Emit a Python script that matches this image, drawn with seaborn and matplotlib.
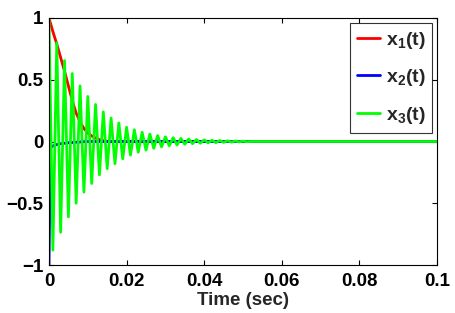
import numpy as np
import pandas as pd
import matplotlib
matplotlib.use("Agg")
import matplotlib.pyplot as plt
import seaborn as sns

# ---- data ----
x1_t = [0.000, 0.001, 0.002, 0.003, 0.004, 0.005, 0.006, 0.007, 0.008, 0.009,
        0.010, 0.011, 0.012, 0.013, 0.014, 0.015, 0.100]
x1_v = [1.00, 0.89, 0.79, 0.68, 0.57, 0.45, 0.33, 0.23, 0.16, 0.105,
        0.07, 0.045, 0.028, 0.015, 0.006, 0.0, 0.0]

x2_t = [0.0000, 0.0003, 0.0007, 0.0015, 0.0025, 0.0050, 0.0080, 0.0100, 0.1000]
x2_v = [-1.00, -0.06, -0.04, -0.03, -0.02, -0.01, -0.004, 0.0, 0.0]

x3_t = [0.000, 0.001, 0.002, 0.003, 0.004, 0.005, 0.006, 0.007, 0.008, 0.009,
        0.010, 0.011, 0.012, 0.013, 0.014, 0.015, 0.016, 0.017, 0.018, 0.019,
        0.020, 0.021, 0.022, 0.023, 0.024, 0.025, 0.026, 0.027, 0.028, 0.029,
        0.030, 0.031, 0.032, 0.033, 0.034, 0.035, 0.036, 0.037, 0.038, 0.039,
        0.040, 0.041, 0.042, 0.043, 0.044, 0.045, 0.046, 0.047, 0.048, 0.049,
        0.050, 0.051, 0.052, 0.100]
x3_v = [1.00, -0.88, 0.80, -0.735, 0.655, -0.61, 0.55, -0.50, 0.45, -0.41,
        0.365, -0.34, 0.30, -0.27, 0.24, -0.22, 0.19, -0.18, 0.15, -0.14,
        0.115, -0.11, 0.095, -0.087, 0.075, -0.07, 0.06, -0.055, 0.048, -0.044,
        0.038, -0.035, 0.031, -0.028, 0.025, -0.022, 0.02, -0.018, 0.016, -0.014,
        0.013, -0.011, 0.010, -0.009, 0.008, -0.007, 0.006, -0.005, 0.004, -0.003,
        0.003, -0.002, 0.0, 0.0]

series_names = ["x1", "x2", "x3"]
legend_labels = [r"$\mathbf{x_1(t)}$", r"$\mathbf{x_2(t)}$", r"$\mathbf{x_3(t)}$"]
series_colors = ["#ff0000", "#0000ff", "#00ff00"]

x_ticks = [0, 0.02, 0.04, 0.06, 0.08, 0.1]
x_tick_labels = ["0", "0.02", "0.04", "0.06", "0.08", "0.1"]
y_ticks = [-1, -0.5, 0, 0.5, 1]
y_tick_labels = ["\u22121", "\u22120.5", "0", "0.5", "1"]

# ---- style ----
sns.set_style("ticks")
plt.rcParams["font.family"] = ["Liberation Sans", "DejaVu Sans"]
plt.rcParams["font.weight"] = "bold"
plt.rcParams["mathtext.fontset"] = "custom"
plt.rcParams["mathtext.bf"] = "Liberation Sans:bold"
plt.rcParams["mathtext.rm"] = "Liberation Sans:bold"
plt.rcParams["mathtext.it"] = "Liberation Sans:bold"

frames = []
for name, t, v in zip(series_names, [x1_t, x2_t, x3_t], [x1_v, x2_v, x3_v]):
    frames.append(pd.DataFrame({"t": t, "v": v, "series": name}))
df = pd.concat(frames, ignore_index=True)

fig = plt.figure(figsize=(4.55, 3.13), dpi=100)
ax = fig.add_axes([49 / 455, 48 / 313, 388 / 455, 247 / 313])

handles = []
for name, color, lab in zip(series_names, series_colors, legend_labels):
    sub = df[df["series"] == name]
    sns.lineplot(data=sub, x="t", y="v", color=color, lw=2.0, ax=ax,
                 sort=False, estimator=None, legend=False)
    handles.append(plt.Line2D([], [], color=color, lw=2.0, label=lab))

ax.set_xlim(0, 0.1)
ax.set_ylim(-1, 1)
ax.set_xticks(x_ticks)
ax.set_xticklabels(x_tick_labels)
ax.set_yticks(y_ticks)
ax.set_yticklabels(y_tick_labels)
ax.tick_params(direction="in", length=3.5, width=0.8, top=True, right=True,
               labelsize=13.5, colors="black")
ax.tick_params(axis="x", pad=6)
ax.tick_params(axis="y", pad=4)
for lbl in ax.get_xticklabels() + ax.get_yticklabels():
    lbl.set_fontweight("bold")
for s in ax.spines.values():
    s.set_visible(True)
    s.set_linewidth(0.8)
    s.set_color("black")

ax.set_xlabel("Time (sec)", fontsize=13.5, fontweight="bold", labelpad=1)
ax.set_ylabel("")

leg = ax.legend(handles=handles, loc="upper right", fontsize=14,
                frameon=True, fancybox=False, edgecolor="black",
                handlelength=1.2, handletextpad=0.3, labelspacing=0.85,
                borderaxespad=0.25, borderpad=0.35)
leg.get_frame().set_linewidth(0.8)

fig.savefig("out.png", dpi=100, facecolor="white")
